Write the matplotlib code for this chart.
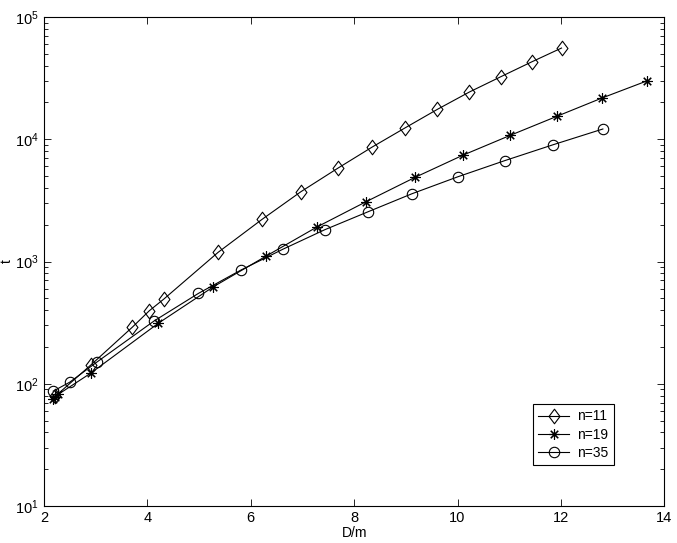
import numpy as np
import matplotlib
matplotlib.use('Agg')
import matplotlib.pyplot as plt
from matplotlib.path import Path

plt.rcParams['font.family'] = ['Liberation Sans', 'DejaVu Sans']
plt.rcParams['font.size'] = 10

# n=11 (diamonds)
d11 = [2.22, 2.905, 3.71, 4.04, 4.32, 5.37, 6.22, 6.97, 7.68, 8.35, 8.99, 9.61,
       10.23, 10.84, 11.43, 12.01]
t11 = [79, 142, 290, 396, 493, 1189, 2213, 3722, 5780, 8640, 12420, 17570,
       24360, 32530, 42870, 55720]

# n=19 (stars)
d19 = [2.17, 2.22, 2.28, 2.905, 4.21, 5.28, 6.30, 7.28, 8.23, 9.18, 10.10,
       11.02, 11.92, 12.79, 13.66]
t19 = [75, 78, 82, 122, 312, 622, 1109, 1915, 3083, 4883, 7395,
       10770, 15400, 21720, 29980]

# n=35 (circles)
d35 = [2.18, 2.50, 3.03, 4.13, 4.99, 5.81, 6.63, 7.43, 8.27, 9.12, 10.01,
       10.91, 11.85, 12.81]
t35 = [87, 103, 151, 326, 549, 851, 1265, 1818, 2553, 3586, 4940,
       6680, 9025, 12130]

diamond = Path([(0, 1), (0.75, 0), (0, -1), (-0.75, 0), (0, 1)],
               [Path.MOVETO, Path.LINETO, Path.LINETO, Path.LINETO, Path.CLOSEPOLY])

fig = plt.figure(figsize=(6.77, 5.43), dpi=100)
ax = fig.add_axes([0.0648, 0.0681, 0.9166, 0.9006])

lw = 0.8
ax.plot(d11, t11, color='k', lw=lw, marker=diamond, ms=10.5, mfc='none',
        mec='k', mew=0.8, label='n=11')
ax.plot(d19, t19, color='k', lw=lw, marker=(8, 2, 0), ms=7.5, mec='k',
        mew=0.8, label='n=19')
ax.plot(d35, t35, color='k', lw=lw, marker='o', ms=7.5, mfc='none',
        mec='k', mew=0.8, label='n=35')

ax.set_yscale('log')
ax.set_xlim(2, 14)
ax.set_ylim(10, 1e5)
ax.set_xticks([2, 4, 6, 8, 10, 12, 14])
ax.set_xlabel('D/m', labelpad=1)
ax.set_ylabel('t', labelpad=1)

ax.tick_params(which='both', direction='in', top=True, right=True,
               labelsize=10.5)
ax.tick_params(which='major', length=5, width=0.6)
ax.tick_params(which='minor', length=3, width=0.6)
ax.tick_params(axis='x', which='minor', bottom=False, top=False)
for s in ax.spines.values():
    s.set_linewidth(0.8)

leg = ax.legend(loc='upper left', bbox_to_anchor=(0.788, 0.209),
                fancybox=False, edgecolor='k', framealpha=1,
                handlelength=2.2, borderpad=0.4, labelspacing=0.3,
                handletextpad=0.6, borderaxespad=0)
leg.get_frame().set_linewidth(0.8)

fig.savefig('out.png', dpi=100)
